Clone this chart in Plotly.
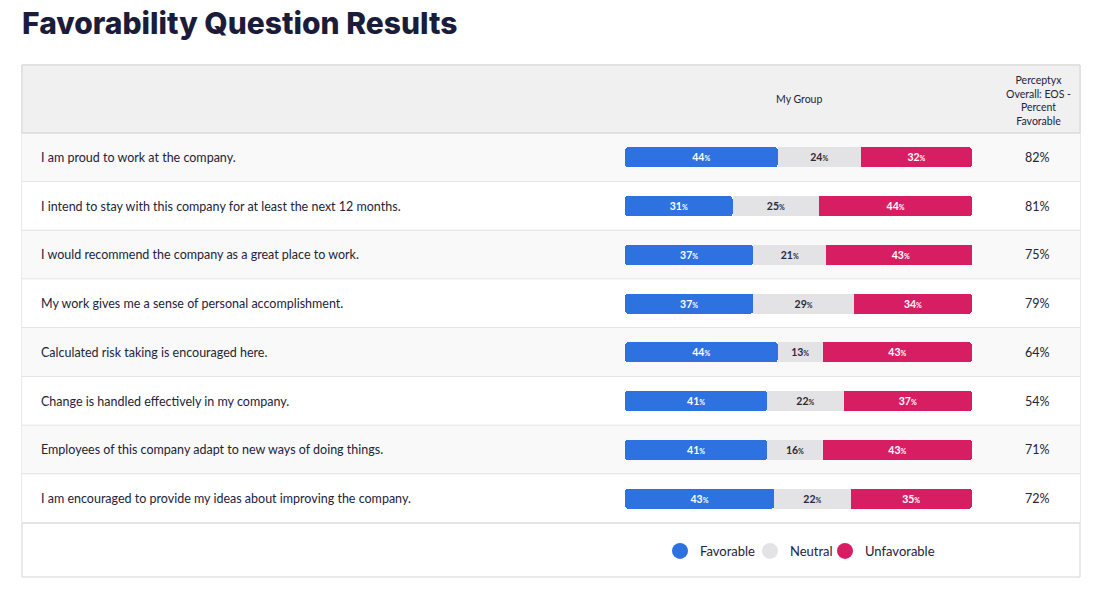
import plotly.graph_objects as go

questions = [
    "I am proud to work at the company.",
    "I intend to stay with this company for at least the next 12 months.",
    "I would recommend the company as a great place to work.",
    "My work gives me a sense of personal accomplishment.",
    "Calculated risk taking is encouraged here.",
    "Change is handled effectively in my company.",
    "Employees of this company adapt to new ways of doing things.",
    "I am encouraged to provide my ideas about improving the company.",
]
favorable = [44, 31, 37, 37, 44, 41, 41, 43]
neutral = [24, 25, 21, 29, 13, 22, 16, 22]
unfavorable = [32, 44, 43, 34, 43, 37, 43, 35]
benchmark = [82, 81, 75, 79, 64, 54, 71, 72]
series_names = ["Favorable", "Neutral", "Unfavorable"]
colors = ["#2d72e0", "#e3e3e6", "#d81e63"]
text_colors = ["#ffffff", "#2a2a3a", "#ffffff"]

W, H = 1099, 615
FONT = "Lato"
DARK = "#23233a"

def px_x(p):
    return p / W

def px_y(p):
    return 1 - p / H

table_left, table_right = 22, 1080
table_top, header_bottom = 65, 133
row_h = 48.75
n = len(questions)
rows_bottom = header_bottom + row_h * n
table_bottom = 577

def pct_text(vals):
    return [f"{v}<span style='font-size:7px'>%</span>" for v in vals]

fig = go.Figure()
ids = list(range(n))

# Favorable: drawn on a reversed overlay axis so its left end is rounded
fig.add_trace(go.Bar(
    y=ids, x=favorable, base=[100 - v for v in favorable], orientation="h",
    xaxis="x2", name=series_names[0],
    marker=dict(color=colors[0], line=dict(width=0), cornerradius=3),
    text=pct_text(favorable), textposition="inside", insidetextanchor="middle",
    textfont=dict(family=FONT, size=10.5, color=text_colors[0], weight=700),
    showlegend=False, hoverinfo="skip",
))
# spacer so neutral/unfavorable stack after favorable on the main axis
fig.add_trace(go.Bar(
    y=ids, x=favorable, orientation="h", marker=dict(color="rgba(0,0,0,0)", line=dict(width=0)),
    showlegend=False, hoverinfo="skip",
))
for name, vals, col, tcol in zip(series_names[1:], [neutral, unfavorable], colors[1:], text_colors[1:]):
    fig.add_trace(go.Bar(
        y=ids, x=vals, orientation="h", name=name,
        marker=dict(color=col, line=dict(width=0)),
        text=pct_text(vals), textposition="inside", insidetextanchor="middle",
        textfont=dict(family=FONT, size=10.5, color=tcol, weight=700),
        showlegend=False, hoverinfo="skip",
    ))
legend_ids = ["legend", "legend2", "legend3"]
for name, col, lid in zip(series_names, colors, legend_ids):
    fig.add_trace(go.Scatter(
        x=[None], y=[None], mode="markers", name=name, legend=lid,
        marker=dict(color=col, size=16, symbol="circle"),
        showlegend=True,
    ))

shapes = []
shapes.append(dict(type="rect", xref="paper", yref="paper",
                   x0=px_x(table_left), x1=px_x(table_right), y0=px_y(table_bottom), y1=px_y(table_top),
                   fillcolor="#ffffff", line=dict(color="#d6d6d6", width=1), layer="below"))
shapes.append(dict(type="rect", xref="paper", yref="paper",
                   x0=px_x(table_left), x1=px_x(table_right), y0=px_y(header_bottom), y1=px_y(table_top),
                   fillcolor="#f0f0f0", line=dict(color="#d6d6d6", width=1), layer="below"))
for i in range(n):
    top = header_bottom + row_h * i
    bot = top + row_h
    shapes.append(dict(type="rect", xref="paper", yref="paper",
                       x0=px_x(table_left), x1=px_x(table_right), y0=px_y(bot), y1=px_y(top),
                       fillcolor="#f9f9f9" if i % 2 == 0 else "#ffffff",
                       line=dict(width=0), layer="below"))
    shapes.append(dict(type="line", xref="paper", yref="paper",
                       x0=px_x(table_left), x1=px_x(table_right), y0=px_y(bot), y1=px_y(bot),
                       line=dict(color="#dcdcdc", width=1.5), layer="below"))
shapes.append(dict(type="line", xref="paper", yref="paper",
                   x0=px_x(table_left), x1=px_x(table_right), y0=px_y(header_bottom), y1=px_y(header_bottom),
                   line=dict(color="#dcdcdc", width=1.5), layer="below"))

annotations = []
for i, q in enumerate(questions):
    annotations.append(dict(xref="paper", yref="y", x=px_x(39), y=i, text=q, showarrow=False,
                            xanchor="left", yanchor="middle",
                            font=dict(family=FONT, size=12.5, color=DARK)))
    annotations.append(dict(xref="paper", yref="y", x=px_x(1037), y=i, text=f"{benchmark[i]}%",
                            showarrow=False, xanchor="center", yanchor="middle",
                            font=dict(family=FONT, size=12.5, color=DARK)))
annotations.append(dict(xref="paper", yref="paper", x=px_x(799), y=px_y(99), text="My Group",
                        showarrow=False, xanchor="center", yanchor="middle",
                        font=dict(family=FONT, size=10.5, color=DARK)))
annotations.append(dict(xref="paper", yref="paper", x=px_x(1038), y=px_y(100),
                        text="Perceptyx<br>Overall: EOS -<br>Percent<br>Favorable",
                        showarrow=False, xanchor="center", yanchor="middle", align="center",
                        font=dict(family=FONT, size=10.5, color=DARK)))
annotations.append(dict(xref="paper", yref="paper", x=px_x(20), y=px_y(23),
                        text="Favorability Question Results",
                        showarrow=False, xanchor="left", yanchor="middle",
                        font=dict(family="Inter", size=30, color="#1b1b3a", weight=800)))

legend_circle_x = [680, 770, 845]
legend_style = dict(orientation="h", xanchor="left", y=px_y(551), yanchor="middle",
                    font=dict(family=FONT, size=13, color=DARK), itemsizing="trace",
                    bgcolor="rgba(0,0,0,0)", borderwidth=0)
legends = {}
for lid, cx in zip(legend_ids, legend_circle_x):
    legends[lid] = dict(legend_style, x=px_x(cx - 20))

xdom = [px_x(625), px_x(972)]
fig.update_layout(
    width=W, height=H,
    margin=dict(l=0, r=0, t=0, b=0),
    paper_bgcolor="#ffffff", plot_bgcolor="rgba(0,0,0,0)",
    barmode="stack", bargap=0.59, barcornerradius=3,
    xaxis=dict(domain=xdom, range=[0, 100], visible=False, fixedrange=True),
    xaxis2=dict(domain=xdom, range=[100, 0], visible=False, fixedrange=True,
                overlaying="x", anchor="y"),
    yaxis=dict(domain=[px_y(rows_bottom), px_y(header_bottom)], range=[n - 0.5, -0.5],
               visible=False, fixedrange=True),
    shapes=shapes,
    annotations=annotations,
    showlegend=True,
    uniformtext=dict(minsize=6, mode="show"),
    **legends,
)

fig.write_html("out.html", config={"displayModeBar": False},
               post_script="document.body.style.margin='0';document.body.style.overflow='hidden';")
